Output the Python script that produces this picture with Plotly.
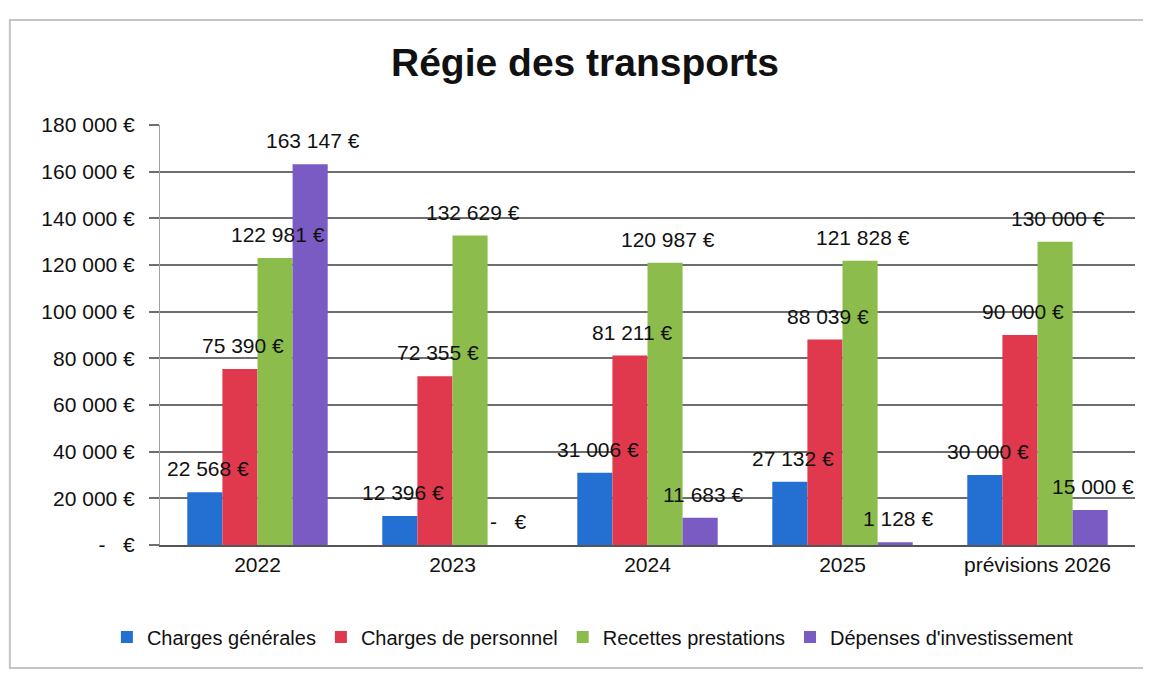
import plotly.graph_objects as go

categories = ["2022", "2023", "2024", "2025", "prévisions 2026"]
charges_generales = [22568, 12396, 31006, 27132, 30000]
charges_personnel = [75390, 72355, 81211, 88039, 90000]
recettes_prestations = [122981, 132629, 120987, 121828, 130000]
depenses_investissement = [163147, 0, 11683, 1128, 15000]
tick_values = [0, 20000, 40000, 60000, 80000, 100000, 120000, 140000, 160000, 180000]


def euro(v):
    if v == 0:
        return "-   €"
    return f"{v:,}".replace(",", " ") + " €"


series = [
    ("Charges générales", charges_generales, "#2470D2"),
    ("Charges de personnel", charges_personnel, "#E0384C"),
    ("Recettes prestations", recettes_prestations, "#8CBD4C"),
    ("Dépenses d'investissement", depenses_investissement, "#7A5BC4"),
]

FONT = "Liberation Sans, Arial, sans-serif"

# layout geometry (page has an 8px body margin)
W, H = 1143, 666
ML, MR, MT, MB = 152, 16, 117, 129
BARGAP = 0.28
plot_w = W - ML - MR
cat_w = plot_w / len(categories)
bar_w = cat_w * (1 - BARGAP) / len(series)

fig = go.Figure()
for name, vals, color in series:
    fig.add_trace(go.Bar(
        x=categories, y=vals, name=name,
        marker=dict(color=color, line=dict(width=0)),
    ))

# data labels on top of all bars (x given as category index)
annotations = []
n = len(series)
for i, (name, vals, color) in enumerate(series):
    dx = (i - (n - 1) / 2) * bar_w + 3
    for j, v in enumerate(vals):
        annotations.append(dict(
            x=j, y=v, xref="x", yref="y", text=euro(v), showarrow=False,
            xanchor="center", yanchor="bottom", xshift=dx, yshift=10,
            font=dict(family=FONT, size=21, color="#111111"),
        ))

fig.update_layout(
    width=W, height=H,
    paper_bgcolor="white", plot_bgcolor="white",
    margin=dict(l=ML, r=MR, t=MT, b=MB, autoexpand=False),
    barmode="group", bargap=BARGAP, bargroupgap=0,
    title=dict(text="<b>Régie des transports</b>", x=(585 - 8) / W, xref="container", xanchor="center",
               y=1 - (62 - 8) / H, yref="container", yanchor="middle",
               font=dict(family=FONT, size=39, color="#111111")),
    legend=dict(orientation="h", x=0.444, xref="paper", xanchor="center", y=-0.219, yanchor="middle",
                font=dict(family=FONT, size=20, color="#111111"), itemwidth=30,
                traceorder="normal"),
    showlegend=True,
    font=dict(family=FONT, color="#111111"),
    annotations=annotations,
)
fig.update_yaxes(
    range=[0, 180000], tickvals=tick_values, ticktext=[euro(v) for v in tick_values],
    showgrid=True, gridcolor="#6e6e6e", gridwidth=1.6,
    showline=True, linecolor="#a0a0a0", linewidth=1,
    ticks="outside", ticklen=10, tickcolor="#6e6e6e", tickwidth=1.6,
    ticklabelstandoff=10,
    tickfont=dict(family=FONT, size=21, color="#111111"),
    zeroline=False,
)
fig.update_xaxes(
    type="category", categoryorder="array", categoryarray=categories,
    range=[-0.5, len(categories) - 0.5],
    showline=True, linecolor="#555555", linewidth=2,
    ticks="", tickfont=dict(family=FONT, size=21, color="#111111"),
)
fig.add_shape(type="rect", xref="paper", yref="paper",
              x0=-0.154, x1=1.01, y0=-0.293, y1=1.25,
              line=dict(color="#c4c4c4", width=2), fillcolor="rgba(0,0,0,0)", layer="below")

fig.write_html("out.html")
